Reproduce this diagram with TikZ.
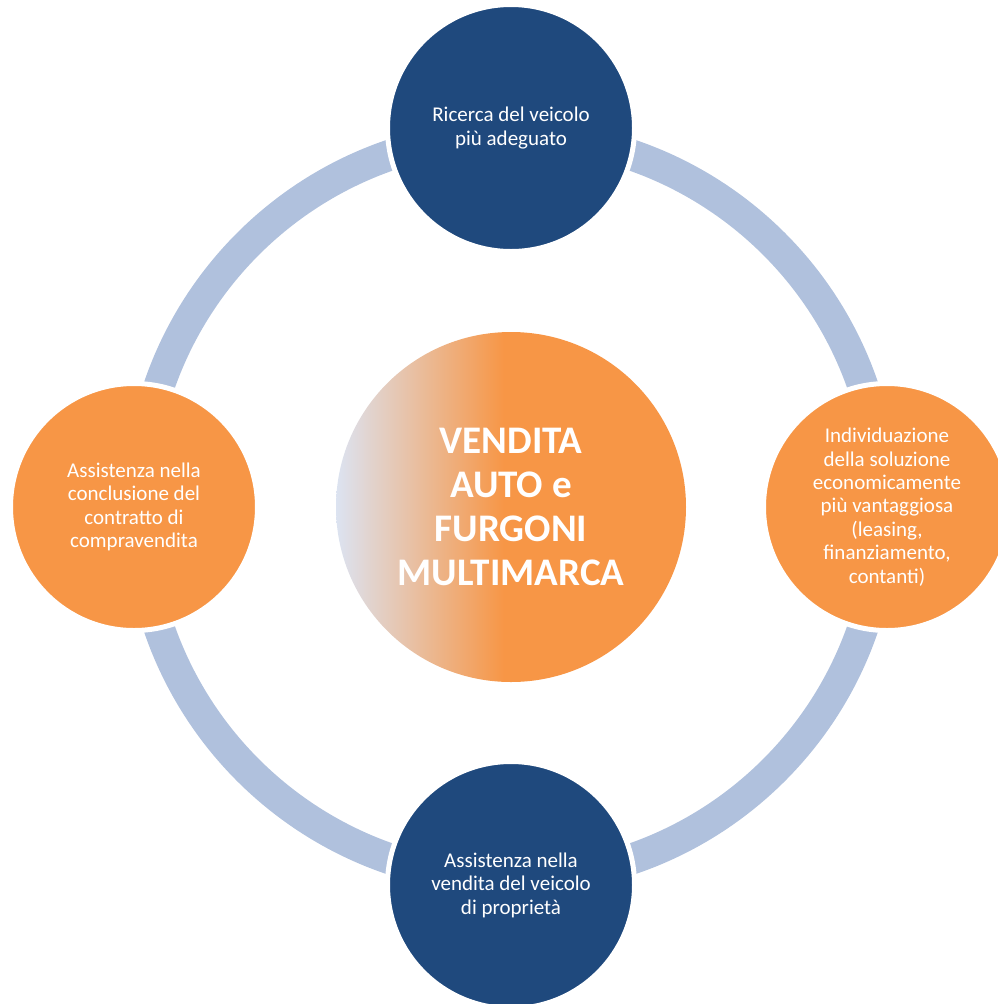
\documentclass[tikz,border=0pt]{standalone}
\usepackage{fontspec}
\setmainfont{Carlito}
\definecolor{dblue}{HTML}{1F497D}
\definecolor{orng}{HTML}{F79646}
\definecolor{ringc}{HTML}{B0C1DD}
\definecolor{clight}{HTML}{DCE3F1}
\pgfdeclarehorizontalshading{centreshade}{100bp}{color(0bp)=(clight); color(25bp)=(clight); color(49bp)=(orng); color(100bp)=(orng)}
\begin{document}
\begin{tikzpicture}[x=0.75pt,y=-0.75pt,
  stage/.style={circle, draw=white, line width=3.75pt, minimum size=185.25pt,
    inner sep=0pt, text=white, align=center,
    font=\fontsize{15.75pt}{17.55pt}\selectfont},
  bluestage/.style={stage, fill=dblue},
  orangestage/.style={stage, fill=orng},
  ringstyle/.style={draw=ringc, line width=23.25pt},
  centrestage/.style={circle, minimum size=262.5pt, inner sep=0pt, shade,
    shading=centreshade, text=white, align=center,
    font=\bfseries\fontsize{29.3pt}{33pt}\selectfont}]
\useasboundingbox (0,0) rectangle (998,1004);
\coordinate (O) at (511,507);
\draw[ringstyle] (O) circle[radius=372];
\node[bluestage] (top) at (511,128) {Ricerca del veicolo\\più adeguato};
\node[orangestage] (right) at (887,507) {Individuazione\\della soluzione\\economicamente\\più vantaggiosa\\(leasing,\\finanziamento,\\contanti)};
\node[bluestage] (bottom) at (511,885) {Assistenza nella\\vendita del veicolo\\di proprietà};
\node[orangestage] (left) at (134,507) {Assistenza nella\\conclusione del\\contratto di\\compravendita};
\node[centrestage] (centre) at (O) {VENDITA\\AUTO e\\FURGONI\\MULTIMARCA};
\end{tikzpicture}
\end{document}
